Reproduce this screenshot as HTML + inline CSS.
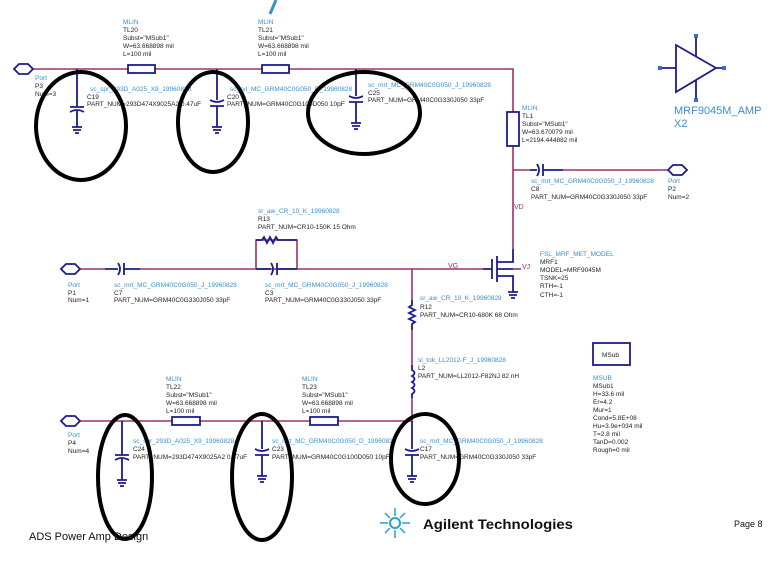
<!DOCTYPE html>
<html><head><meta charset="utf-8"><style>
html,body{margin:0;padding:0;background:#fff;}
svg{display:block;font-family:"Liberation Sans",sans-serif;}
.w{stroke:#a0306a;stroke-width:1.6;fill:none}
.c{stroke:#1c1c8c;stroke-width:1.8;fill:none}
.l{fill:#3a8fd0;font-size:6.5px}
.t{fill:#222;font-size:6.5px}
.e{stroke:#000;stroke-width:4;fill:none}
</style></head><body>
<svg width="775" height="569" viewBox="0 0 775 569">
<rect width="775" height="569" fill="#fff"/>
<path d="M270 14 L276 0" stroke="#3a8fd0" stroke-width="3"/>
<path class="w" d="M33 69 H128 M155 69 H262 M288 69 H513 V112 M513 146 V249"/>
<path class="c" d="M14 69 l5 -5 h9 l5 5 l-5 5 h-9z"/>
<rect class="c" x="128" y="65" width="27" height="8"/>
<rect class="c" x="262" y="65" width="27" height="8"/>
<rect class="c" x="507" y="112" width="12" height="34"/>
<g class="c">
<path d="M77 69 V107 M70 107 H84 M70 112 q7 -4 14 0 M77 111 V127 M72 127 H82 M73 130 H81 M75 133 H79"/>
<path d="M217 69 V100 M210 100 q7 4 14 0 M210 106 H224 M217 106 V127 M212 127 H222 M213 130 H221 M215 133 H219"/>
<path d="M356 69 V96 M349 96 q7 4 14 0 M349 102 H363 M356 102 V123 M351 123 H361 M352 126 H360 M354 129 H358"/>
</g>
<g class="l"><text x="35" y="80">Port</text><text x="123" y="24">MLIN</text><text x="258" y="24">MLIN</text><text x="230" y="91">sc_rvI_MC_GRM40C0G050_D_19960828</text><text x="368" y="87">sc_mrt_MC_GRM40C0G050_J_19960828</text><text x="90" y="91">sc_spr_293D_A025_X9_19960828</text><text x="522" y="110">MLIN</text></g>
<g class="t"><text x="35" y="88">P3</text><text x="35" y="96">Num=3</text>
<text x="123" y="32">TL20</text><text x="123" y="40">Subst="MSub1"</text><text x="123" y="48">W=63.668898 mil</text><text x="123" y="56">L=100 mil</text>
<text x="258" y="32">TL21</text><text x="258" y="40">Subst="MSub1"</text><text x="258" y="48">W=63.668898 mil</text><text x="258" y="56">L=100 mil</text>
<text x="87" y="99">C19</text><text x="87" y="106">PART_NUM=293D474X9025A2 0.47uF</text>
<text x="227" y="99">C20</text><text x="227" y="106">PART_NUM=GRM40C0G100D050 10pF</text>
<text x="368" y="95">C25</text><text x="368" y="102">PART_NUM=GRM40C0G330J050 33pF</text>
<text x="522" y="118">TL1</text><text x="522" y="126">Subst="MSub1"</text><text x="522" y="134">W=63.670079 mil</text><text x="522" y="142">L=2194.444882 mil</text></g>
<ellipse class="e" cx="81" cy="126" rx="45" ry="54"/>
<ellipse class="e" cx="213" cy="122" rx="35" ry="50"/>
<ellipse class="e" cx="364" cy="113" rx="56" ry="41"/>
<path class="w" d="M513 170 H530 M563 170 H668"/>
<path class="c" d="M530 170 H537 M537 164 q4 6 0 12 M543 164 V176 M543 170 H563"/>
<path class="c" d="M668 170 l5 -5 h9 l5 5 l-5 5 h-9z"/>
<g class="l"><text x="531" y="183">sc_mrt_MC_GRM40C0G050_J_19960828</text><text x="668" y="183">Port</text></g>
<g class="t"><text x="531" y="191">C8</text><text x="531" y="199">PART_NUM=GRM40C0G330J050 33pF</text><text x="668" y="191">P2</text><text x="668" y="199">Num=2</text></g>
<text x="514" y="209" fill="#a0306a" font-size="7">VD</text>
<g class="c" stroke-width="1"><path d="M676 45 V92 L716 68 Z M660 68 H676 M696 36 V56 M696 80 V100 M716 68 H724"/></g>
<g fill="#3a6ad0"><rect x="658" y="66" width="4" height="4"/><rect x="722" y="66" width="4" height="4"/><rect x="694" y="34" width="4" height="4"/><rect x="694" y="98" width="4" height="4"/></g>
<text x="674" y="114" fill="#3a8fd0" font-size="11">MRF9045M_AMP</text><text x="674" y="127" fill="#3a8fd0" font-size="11">X2</text>
<path class="w" d="M80 269 H105 M140 269 H256 V240 H297 V269 H256 M297 269 H483"/>
<path class="c" d="M61 269 l5 -5 h9 l5 5 l-5 5 h-9z"/>
<path class="c" d="M105 269 H118 M118 263 q4 6 0 12 M124 263 V275 M124 269 H140"/>
<path class="c" d="M256 269 H271 M271 263 q4 6 0 12 M277 263 V275 M277 269 H297"/>
<path class="c" d="M256 240 H262 l2 -3 l3 6 l3 -6 l3 6 l3 -6 l2 3 H297"/>
<text x="448" y="268" fill="#a0306a" font-size="7">VG</text>
<path class="c" stroke-width="1.2" d="M483 269 H492 M492 259 V279 M497 256 V282 M497 262 H513 V249 M497 269 H513 M497 276 H513 V292 M508 292 H518 M509 295 H517 M511 298 H515"/>
<path class="w" d="M513 269 H521"/>
<text x="522" y="269" fill="#a0306a" font-size="7">VJ</text>
<g class="l"><text x="68" y="287">Port</text><text x="114" y="287">sc_mrt_MC_GRM40C0G050_J_19960828</text><text x="265" y="287">sc_mrt_MC_GRM40C0G050_J_19960828</text><text x="258" y="213">sr_aw_CR_10_K_19960828</text><text x="420" y="300">sr_aw_CR_10_K_19960828</text><text x="540" y="256">FSL_MRF_MET_MODEL</text></g>
<g class="t"><text x="68" y="295">P1</text><text x="68" y="302">Num=1</text><text x="114" y="295">C7</text><text x="114" y="302">PART_NUM=GRM40C0G330J050 33pF</text><text x="265" y="295">C3</text><text x="265" y="302">PART_NUM=GRM40C0G330J050 33pF</text><text x="258" y="221">R13</text><text x="258" y="229">PART_NUM=CR10-150K 15 Ohm</text><text x="420" y="309">R12</text><text x="420" y="317">PART_NUM=CR10-680K 68 Ohm</text>
<text x="540" y="264">MRF1</text><text x="540" y="272">MODEL=MRF9045M</text><text x="540" y="280">TSNK=25</text><text x="540" y="288">RTH=-1</text><text x="540" y="297">CTH=-1</text></g>
<path class="w" d="M412 269 V300 M412 330 V365 M412 398 V421"/>
<path class="c" d="M412 300 V305 l-3 2 l6 3 l-6 3 l6 3 l-6 3 l6 3 l-3 2 V330"/>
<path class="c" d="M412 365 V370 q5 3 0 6 q5 3 0 6 q5 3 0 6 q5 3 0 6 V398"/>
<g class="l"><text x="418" y="362">sl_tok_LL2012-F_J_19960828</text></g>
<g class="t"><text x="418" y="370">L2</text><text x="418" y="378">PART_NUM=LL2012-F82NJ 82 nH</text></g>
<path class="w" d="M80 421 H172 M200 421 H310 M338 421 H412"/>
<path class="c" d="M61 421 l5 -5 h9 l5 5 l-5 5 h-9z"/>
<rect class="c" x="172" y="417" width="28" height="8"/>
<rect class="c" x="310" y="417" width="28" height="8"/>
<g class="c">
<path d="M122 421 V455 M115 455 H129 M115 460 q7 -4 14 0 M122 459 V480 M117 480 H127 M118 483 H126 M120 486 H124"/>
<path d="M262 421 V449 M255 449 q7 4 14 0 M255 455 H269 M262 455 V476 M257 476 H267 M258 479 H266 M260 482 H264"/>
<path d="M412 421 V449 M405 449 q7 4 14 0 M405 455 H419 M412 455 V476 M407 476 H417 M408 479 H416 M410 482 H414"/>
</g>
<g class="l"><text x="68" y="437">Port</text><text x="166" y="381">MLIN</text><text x="302" y="381">MLIN</text><text x="133" y="443">sc_spr_293D_A025_X9_19960828</text><text x="272" y="443">sc_mrt_MC_GRM40C0G050_D_19960828</text><text x="420" y="443">sc_mrt_MC_GRM40C0G050_J_19960828</text><text x="593" y="380">MSUB</text></g>
<g class="t"><text x="68" y="445">P4</text><text x="68" y="453">Num=4</text>
<text x="166" y="389">TL22</text><text x="166" y="397">Subst="MSub1"</text><text x="166" y="405">W=63.668898 mil</text><text x="166" y="413">L=100 mil</text>
<text x="302" y="389">TL23</text><text x="302" y="397">Subst="MSub1"</text><text x="302" y="405">W=63.668898 mil</text><text x="302" y="413">L=100 mil</text>
<text x="133" y="451">C24</text><text x="133" y="459">PART_NUM=293D474X9025A2 0.47uF</text>
<text x="272" y="451">C23</text><text x="272" y="459">PART_NUM=GRM40C0G100D050 10pF</text>
<text x="420" y="451">C17</text><text x="420" y="459">PART_NUM=GRM40C0G330J050 33pF</text>
<text x="593" y="388">MSub1</text><text x="593" y="396">H=33.6 mil</text><text x="593" y="404">Er=4.2</text><text x="593" y="412">Mur=1</text><text x="593" y="420">Cond=5.8E+08</text><text x="593" y="428">Hu=3.9e+034 mil</text><text x="593" y="436">T=2.8 mil</text><text x="593" y="444">TanD=0.002</text><text x="593" y="452">Rough=0 mil</text></g>
<rect class="c" x="593" y="343" width="37" height="22" stroke-width="1.5"/>
<text x="602" y="357" class="t">MSub</text>
<ellipse class="e" cx="125" cy="477" rx="27" ry="62"/>
<ellipse class="e" cx="262" cy="477" rx="30" ry="63"/>
<ellipse class="e" cx="425" cy="459" rx="34" ry="45"/>
<g stroke="#2aa0d8" stroke-width="1.5">
<path d="M395 508 V516 M395 530 V538 M380 523 H388 M402 523 H410 M385 513 L390 518 M405 513 L400 518 M385 533 L390 528 M405 533 L400 528"/>
</g>
<circle cx="395" cy="523" r="5" fill="none" stroke="#2aa0d8" stroke-width="2"/>
<text x="423" y="529" font-size="14" font-weight="bold" fill="#111" textLength="150" lengthAdjust="spacingAndGlyphs">Agilent Technologies</text>
<text x="29" y="540" font-size="11" fill="#111">ADS Power Amp Design</text>
<text x="734" y="527" font-size="9" fill="#111">Page 8</text>
</svg>
</body></html>
